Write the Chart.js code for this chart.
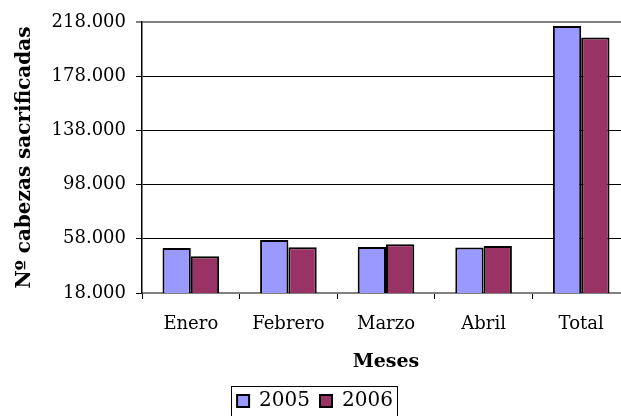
<!DOCTYPE html>
<html>
<head>
<meta charset="utf-8">
<script src="https://cdn.jsdelivr.net/npm/chart.js@4/dist/chart.umd.min.js"></script>
<style>
  html, body { margin: 0; padding: 0; background: #fff; overflow: hidden; }
  #wrap { position: relative; width: 630px; height: 416px; }
</style>
</head>
<body>
<div id="wrap"><canvas id="c" width="630" height="416"></canvas></div>
<script>
const categories = ["Enero", "Febrero", "Marzo", "Abril", "Total"];
const seriesNames = ["2005", "2006"];
const values2005 = [51200, 57200, 52000, 51500, 215000];
const values2006 = [45200, 51700, 54000, 52700, 206500];
const yTicks = [18000, 58000, 98000, 138000, 178000, 218000];
const yTitle = "Nº cabezas sacrificadas";
const xTitle = "Meses";

const FONT = "'DejaVu Serif', serif";

const legendBox = {
  id: 'legendBox',
  afterDraw(chart) {
    const lg = chart.legend;
    if (!lg || !lg.legendHitBoxes || !lg.legendHitBoxes.length) return;
    const hb = lg.legendHitBoxes;
    let l = Infinity, r = -Infinity, t = Infinity;
    hb.forEach(b => { l = Math.min(l, b.left); r = Math.max(r, b.left + b.width); t = Math.min(t, b.top); });
    const ctx = chart.ctx;
    ctx.save();
    ctx.strokeStyle = '#000';
    ctx.lineWidth = 1;
    ctx.strokeRect(Math.round(l - 6) + 0.5, Math.round(t - 5) + 0.5, Math.round(r - l + 10), 60);
    ctx.restore();
  }
};

new Chart(document.getElementById('c'), {
  type: 'bar',
  data: {
    labels: categories,
    datasets: [
      { label: seriesNames[0], data: values2005, backgroundColor: '#9999FF', borderColor: '#000', borderWidth: 2, borderSkipped: false },
      { label: seriesNames[1], data: values2006, backgroundColor: '#993366', borderColor: '#000', borderWidth: 2, borderSkipped: false }
    ]
  },
  options: {
    responsive: false,
    animation: false,
    devicePixelRatio: 1,
    layout: { padding: { top: 22, right: 0, bottom: -5, left: 0 } },
    datasets: { bar: { categoryPercentage: 0.58, barPercentage: 1.0 } },
    plugins: {
      tooltip: { enabled: false },
      legend: {
        position: 'bottom',
        align: 'center',
        labels: {
          color: '#000',
          font: { family: FONT, size: 20 },
          boxWidth: 12,
          boxHeight: 12,
          padding: 10
        }
      }
    },
    scales: {
      x: {
        grid: { display: true, drawOnChartArea: false, drawTicks: true, tickLength: 6, color: '#000', offset: true },
        border: { display: true, color: '#808080', width: 2 },
        ticks: { color: '#000', font: { family: FONT, size: 18 }, padding: 15, maxRotation: 0 },
        title: { display: true, text: xTitle, color: '#000', font: { family: FONT, size: 19, weight: 'bold' }, padding: { top: 0, bottom: 8 } },
        afterFit(s) { s.height = 88; }
      },
      y: {
        min: 18000,
        max: 218000,
        afterBuildTicks(s) { s.ticks = yTicks.map(v => ({ value: v })); },
        grid: {
          color: ctx => (ctx.tick && ctx.tick.value === 218000) ? '#808080' : '#000',
          lineWidth: ctx => (ctx.tick && ctx.tick.value === 218000) ? 2 : 1,
          tickLength: 6,
          drawTicks: true
        },
        border: { display: true, color: '#000', width: 1.5 },
        ticks: {
          color: '#000',
          font: { family: FONT, size: 18 },
          padding: 10,
          callback: v => v.toLocaleString('de-DE')
        },
        title: { display: true, text: yTitle, color: '#000', font: { family: FONT, size: 20, weight: 'bold' }, padding: { top: 13, bottom: 0 } },
        afterFit(s) { s.width = 142; }
      }
    }
  },
  plugins: [legendBox]
});
</script>
</body>
</html>
